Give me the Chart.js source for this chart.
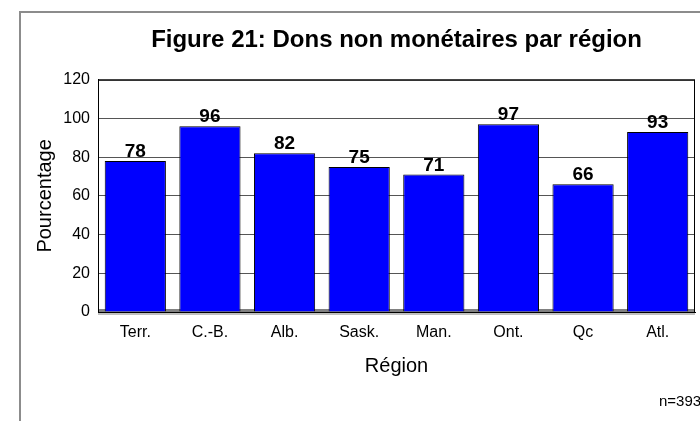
<!DOCTYPE html>
<html>
<head>
<meta charset="utf-8">
<script src="https://cdn.jsdelivr.net/npm/chart.js@4/dist/chart.umd.min.js"></script>
<style>
  html, body { margin: 0; padding: 0; background: #fff; }
  canvas { display: block; }
</style>
</head>
<body>
<canvas id="regionChart" width="700" height="421"></canvas>
<script>
// data
var regions = ['Terr.', 'C.-B.', 'Alb.', 'Sask.', 'Man.', 'Ont.', 'Qc', 'Atl.'];
var percentages = [78, 96, 82, 75, 71, 97, 66, 93];
var yTicks = [0, 20, 40, 60, 80, 100, 120];
var sampleNote = 'n=393';

var fontFamily = "'Liberation Sans', Arial, sans-serif";

// outer frame, floor band and plot border
var framePlugin = {
    id: 'framePlugin',
    beforeDraw: function(chart){
        var ctx = chart.ctx;
        ctx.save();
        ctx.strokeStyle = '#8c8c8c';
        ctx.lineWidth = 2;
        ctx.strokeRect(20, 12, 720, 440);
        ctx.restore();
    },
    beforeDatasetsDraw: function(chart){
        var ctx = chart.ctx;
        var area = chart.chartArea;
        ctx.save();
        ctx.fillStyle = '#808080';
        ctx.fillRect(area.left, area.bottom - 3, area.right - area.left, 3);
        ctx.fillStyle = '#c0c0c0';
        ctx.fillRect(area.left, area.bottom + 1, area.right - area.left, 2);
        ctx.restore();
    },
    afterDatasetsDraw: function(chart){
        var ctx = chart.ctx;
        var area = chart.chartArea;
        ctx.save();
        ctx.strokeStyle = '#000';
        ctx.lineWidth = 1;
        ctx.strokeRect(area.left + 0.5, area.top + 0.5, area.right - area.left - 1, area.bottom - area.top);

        // value labels above the bars
        ctx.fillStyle = '#000';
        ctx.font = 'bold 19px ' + fontFamily;
        ctx.textAlign = 'center';
        ctx.textBaseline = 'alphabetic';
        chart.getDatasetMeta(0).data.forEach(function(bar, i){
            ctx.fillText(percentages[i], bar.x, bar.y - 4);
        });

        // sample size note
        ctx.font = '15px ' + fontFamily;
        ctx.textAlign = 'left';
        ctx.fillText(sampleNote, 659, 406);
        ctx.restore();
    }
};

const config = {
    type: 'bar',
    data: {
        labels: regions,
        datasets: [{
            label: 'Pourcentage',
            data: percentages,
            backgroundColor: '#0000ff',
            borderColor: '#000000',
            borderWidth: 1,
            barPercentage: 0.82,
            categoryPercentage: 1
        }]
    },
    options: {
        responsive: false,
        devicePixelRatio: 1,
        animation: false,
        layout: {
            padding: {left: 0, right: 5, top: 0, bottom: 0}
        },
        plugins: {
            legend: { display: false },
            tooltip: { enabled: false },
            title: {
                display: true,
                fullSize: false,
                text: 'Figure 21: Dons non monétaires par région',
                color: '#000',
                font: { family: fontFamily, size: 24, weight: 'bold' },
                padding: { top: 26, bottom: 25 }
            }
        },
        scales: {
            x: {
                grid: { display: false, drawTicks: false },
                border: { color: '#000', width: 1 },
                ticks: {
                    color: '#000',
                    font: { family: fontFamily, size: 16 },
                    padding: 11,
                    maxRotation: 0
                },
                title: {
                    display: true,
                    text: 'Région',
                    color: '#000',
                    font: { family: fontFamily, size: 20 },
                    padding: { top: 0, bottom: 43 }
                },
                afterFit: function(scale){
                    scale.height = 109;
                }
            },
            y: {
                min: 0,
                max: 120,
                grid: { color: '#555', drawTicks: false },
                border: { color: '#000', width: 1 },
                afterBuildTicks: function(scale){
                    scale.ticks = yTicks.map(function(v){ return {value: v}; });
                },
                ticks: {
                    color: '#000',
                    font: { family: fontFamily, size: 16 },
                    padding: 8
                },
                title: {
                    display: true,
                    text: 'Pourcentage',
                    color: '#000',
                    font: { family: fontFamily, size: 20 },
                    padding: { top: 33, bottom: 0 }
                },
                afterFit: function(scale){
                    scale.width = 98;
                }
            }
        }
    },
    plugins: [framePlugin]
};

var regionChart = new Chart(document.getElementById('regionChart'), config);
</script>
</body>
</html>
